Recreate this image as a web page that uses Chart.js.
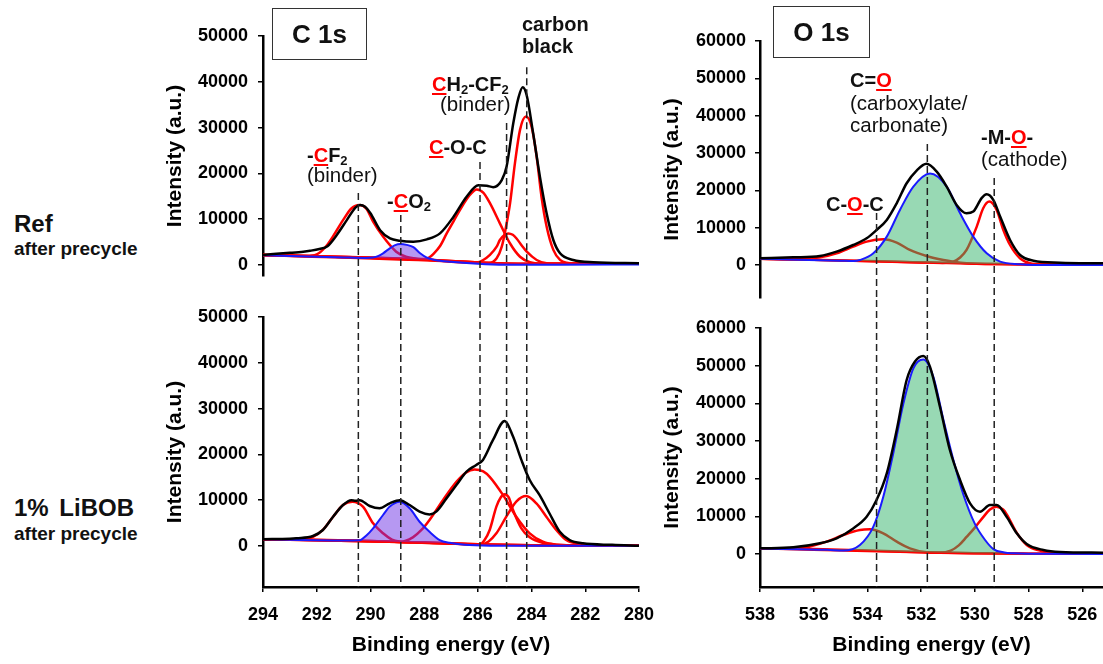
<!DOCTYPE html>
<html>
<head>
<meta charset="utf-8">
<script src="https://cdn.jsdelivr.net/npm/chart.js@4.4.0/dist/chart.umd.min.js"></script>
<style>
body { margin:0; width:1103px; height:664px; overflow:hidden; background:#fff; position:relative;
       font-family:"Liberation Sans", Arial, sans-serif; color:#111; }
canvas { position:absolute; }
.t { position:absolute; white-space:nowrap; line-height:1; font-size:20.5px; }
.b { font-weight:bold; font-size:20px; }
.r { color:#f00; text-decoration:underline; text-decoration-thickness:2px; text-underline-offset:2px; }
.s { font-size:13px; vertical-align:-3px; }
.box { position:absolute; border:1.5px solid #333; box-sizing:border-box; display:flex;
       align-items:center; justify-content:center; font-weight:bold; font-size:26px; }
</style>
</head>
<body>
<canvas id="bl" width="541" height="364" style="left:159px;top:300px"></canvas>
<canvas id="br" width="447" height="364" style="left:656px;top:300px"></canvas>
<canvas id="tl" width="541" height="300" style="left:159px;top:0px"></canvas>
<canvas id="tr" width="447" height="300" style="left:656px;top:0px"></canvas>

<div class="box" style="left:272px;top:8px;width:95px;height:52px">C 1s</div>
<div class="box" style="left:773px;top:6px;width:97px;height:52px">O 1s</div>

<div class="t b" style="left:307px;top:145px">-<span class="r">C</span>F<span class="s">2</span></div>
<div class="t" style="left:307px;top:165px">(binder)</div>
<div class="t b" style="left:387px;top:191px">-<span class="r">C</span>O<span class="s">2</span></div>
<div class="t b" style="left:429px;top:137px"><span class="r">C</span>-O-C</div>
<div class="t b" style="left:432px;top:74px"><span class="r">C</span>H<span class="s">2</span>-CF<span class="s">2</span></div>
<div class="t" style="left:440px;top:94px">(binder)</div>
<div class="t b" style="left:522px;top:14px">carbon</div>
<div class="t b" style="left:522px;top:36px">black</div>

<div class="t b" style="left:850px;top:70px">C=<span class="r">O</span></div>
<div class="t" style="left:850px;top:93px">(carboxylate/</div>
<div class="t" style="left:850px;top:115px">carbonate)</div>
<div class="t b" style="left:981px;top:127px">-M-<span class="r">O</span>-</div>
<div class="t" style="left:981px;top:149px">(cathode)</div>
<div class="t b" style="left:826px;top:194px">C-<span class="r">O</span>-C</div>

<div class="t" style="left:14px;top:212px;font-size:24px;font-weight:bold">Ref</div>
<div class="t" style="left:14px;top:239px;font-size:19px;font-weight:bold">after precycle</div>
<div class="t" style="left:14px;top:496px;font-size:24px;font-weight:bold;word-spacing:4px">1% LiBOB</div>
<div class="t" style="left:14px;top:524px;font-size:19px;font-weight:bold">after precycle</div>

<script>
// ranges [left, right] in eV, y ranges [min, max]
const cRange = [294, 280];
const oRange = [538, 525.23];
const yTopC = [-2400, 50000];
const yBotC = [-8950, 50000];
const yTopO = [-8840, 60000];
const yBotO = [-8760, 60000];

// tick labels
const cTicksX = [294, 292, 290, 288, 286, 284, 282, 280];
const oTicksX = [538, 536, 534, 532, 530, 528, 526];
const cTicksY = [0, 10000, 20000, 30000, 40000, 50000];
const oTicksY = [0, 10000, 20000, 30000, 40000, 50000, 60000];

// dashed guide lines: peak energies and where they start in the upper panel
const cPeakE = [290.45, 288.87, 285.92, 284.93, 284.18];
const cPeakTop = [15700, 10900, 22500, 31000, 43200];
const oPeakE = [533.66, 531.77, 529.28];
const oPeakTop = [13900, 32400, 23300];

// C 1s, Ref after precycle  [eV, counts]
const cRefBg = [[294,2200],[292,1900],[290,1600],[288,1200],[287,900],[286,550],[285,350],[284,270],[280,250]];
const cRefExp = [[294,2200],[293.5,2450],[293,2650],[292.5,2900],[292.25,3100],[291.9,3500],[291.6,4100],[291.26,6500],
  [290.88,9800],[290.55,12600],[290.38,13100],[290.2,12700],[290,11300],[289.64,7600],[289.27,5800],[288.9,5300],
  [288.4,5100],[287.9,5600],[287.41,6900],[286.91,10500],[286.42,14900],[285.98,17400],[285.67,17300],[285.43,17000],
  [285.11,18550],[284.93,21500],[284.68,31000],[284.49,36500],[284.33,38800],[284.18,37000],[283.94,28700],
  [283.69,19300],[283.44,11300],[283.19,5460],[282.94,2550],[282.45,1100],[281.7,600],[280,400]];
const cRefCF2 = [[294,2200],[292.4,1950],[292,2300],[291.65,4100],[291.4,6200],[291.02,9800],[290.7,12400],[290.42,13100],
  [290.15,12300],[289.9,9450],[289.53,6200],[289.04,2900],[288.68,1800],[288.2,1300],[287,900],[286,550],[285,350],[284,270],[280,250]];
const cRefCO2 = [[294,2150],[291,1650],[290.2,1550],[289.9,1650],[289.7,2000],[289.53,2550],[289.28,3640],[289.1,4300],
  [288.88,4600],[288.65,4400],[288.4,3900],[288.15,2550],[287.9,1600],[287.6,1100],[287,700],[286,300],[285,80],[284,50],[283,60],[280,100]];
const cRefCOC = [[294,2200],[290,1600],[288.5,1300],[288,1300],[287.8,1700],[287.66,2400],[287.4,4200],[287.16,6900],
  [286.9,9600],[286.67,12000],[286.3,15300],[286.04,16500],[285.8,15800],[285.55,13500],[285.18,9100],[284.8,4700],
  [284.43,1800],[284.06,600],[283.6,300],[280,250]];
const cRef285 = [[294,2200],[288,1200],[286.3,500],[286.04,550],[285.8,1100],[285.55,2200],[285.3,4000],[285.18,5460],
  [285,6600],[284.87,6900],[284.7,6600],[284.56,5800],[284.36,4200],[284.18,2900],[283.81,1100],[283.44,370],[283,280],[280,250]];
const cRefCB = [[294,2200],[286,550],[285.6,420],[285.3,1460],[285.11,4000],[284.95,8400],[284.8,13500],[284.62,22200],
  [284.43,29500],[284.21,32400],[284,30200],[283.81,23600],[283.63,14900],[283.44,8400],[283.19,3300],[282.94,1100],
  [282.7,500],[282,280],[280,250]];

// C 1s, 1% LiBOB after precycle
const cLiBg = [[294,1500],[292,1350],[290,1100],[288.9,900],[288,750],[286,400],[284,150],[282,80],[280,50]];
const cLiExp = [[294,1500],[293,1600],[292.76,1700],[292.14,2180],[291.77,3500],[291.39,6400],[291.02,8950],[290.71,10000],
  [290.55,9900],[290.4,10000],[290.03,8730],[289.66,8230],[289.28,9320],[288.91,10000],[288.54,8950],[288.17,7500],
  [287.8,6900],[287.55,7500],[287.17,10400],[286.8,13300],[286.43,16200],[286.06,17700],[285.81,18800],[285.44,23100],
  [285,27300],[284.69,23900],[284.38,18800],[284.07,14400],[283.7,11100],[283.33,7100],[282.95,3100],[282.58,1300],
  [282.09,580],[281,250],[280,70]];
const cLiCF2 = [[294,1500],[292.5,1400],[292.14,2000],[291.77,3500],[291.39,6400],[291.02,8950],[290.67,9670],[290.28,8600],
  [289.9,4950],[289.53,2770],[289.2,1400],[288.91,950],[288.4,760],[286,400],[284,150],[280,50]];
const cLiCO2 = [[294,1450],[291,1200],[290.4,1250],[290.15,2300],[289.9,3860],[289.53,6770],[289.28,8600],[288.91,9670],
  [288.54,8230],[288.17,5300],[287.8,3100],[287.42,1300],[287.05,700],[286.5,300],[285.5,80],[284,30],[283,30],[280,30]];
const cLiCOC = [[294,1500],[290,1100],[289.2,950],[288.91,900],[288.42,1900],[288.1,3500],[287.8,5700],[287.3,10000],
  [286.8,14000],[286.45,16000],[286.12,16700],[285.8,16300],[285.56,15100],[285.06,11100],[284.57,6400],[284.07,2770],
  [283.58,940],[283.08,300],[282,100],[280,50]];
const cLi285 = [[294,1500],[288,750],[286.2,330],[285.93,300],[285.75,1300],[285.56,3500],[285.31,8600],[285.15,10600],
  [285,11300],[284.85,10600],[284.69,7860],[284.38,3860],[284.07,1900],[283.58,700],[283.08,300],[282,100],[280,50]];
const cLiCB = [[294,1500],[288,750],[286.2,330],[285.93,300],[285.6,1000],[285.31,2770],[284.94,6400],[284.57,9700],
  [284.2,10900],[283.82,9300],[283.45,6400],[283.08,3500],[282.71,1300],[282.21,440],[281.59,150],[280,50]];

// O 1s, Ref after precycle
const oRefBg = [[538,1700],[536,1400],[534,1100],[532,700],[530,350],[528,150],[525.23,60]];
const oRefExp = [[538,1790],[536.76,2050],[535.77,2410],[535.15,3570],[534.53,5360],[534.03,7150],[533.66,9380],
  [533.28,12060],[532.91,16530],[532.54,21900],[532.17,25300],[531.8,27100],[531.42,25000],[531.05,21000],
  [530.68,16100],[530.31,13850],[530.06,14300],[529.75,17900],[529.56,18950],[529.31,17400],[529.06,13000],
  [528.69,6700],[528.32,2680],[527.82,1160],[526.83,630],[525.23,450]];
const oRefCOC = [[538,1700],[536.5,1550],[535.77,2050],[535.15,3130],[534.53,4920],[534.03,6260],[533.41,6900],
  [532.91,6000],[532.42,4020],[531.8,2410],[531.17,1340],[530.8,900],[530.31,500],[529,250],[525.23,60]];
const oRefCO = [[538,1650],[535,1150],[534.5,1050],[534.28,1340],[533.78,3130],[533.28,7600],[532.79,14750],
  [532.29,21000],[531.67,24500],[531.05,21000],[530.55,13850],[530.06,7600],[529.56,3130],[529.06,900],
  [528.32,180],[527.8,20],[525.23,0]];
const oRefMO = [[538,1700],[532,700],[531.2,550],[530.8,900],[530.55,2000],[530.31,4020],[529.93,10280],[529.69,15200],
  [529.46,16980],[529.19,14750],[528.94,9380],[528.69,5360],[528.32,1790],[527.95,450],[527.5,150],[525.23,60]];

// O 1s, 1% LiBOB after precycle
const oLiBg = [[538,1500],[536,1300],[534,950],[532,450],[530,200],[528,100],[525.23,50]];
const oLiExp = [[538,1500],[536.76,1770],[535.77,2830],[535.15,4160],[534.53,6800],[534.03,9900],[533.66,14330],
  [533.28,21400],[532.91,32900],[532.54,46200],[532.23,51100],[531.92,52550],[531.67,49700],[531.3,39100],
  [530.93,27600],[530.55,19600],[530.18,13450],[529.81,11240],[529.44,13000],[529.19,13000],[528.82,9900],
  [528.44,5500],[528.07,2650],[527.45,1060],[526.83,530],[525.23,350]];
const oLiCOC = [[538,1500],[536.5,1500],[536.14,2000],[535.52,3270],[534.9,5040],[534.28,6370],[533.9,6550],
  [533.41,5480],[532.91,3270],[532.42,1500],[531.8,450],[531.3,320],[530,200],[528,100],[525.23,50]];
const oLiCO = [[538,1450],[535.5,1100],[534.9,900],[534.28,2390],[533.78,7260],[533.41,15200],[533.04,26700],
  [532.66,40000],[532.29,49300],[531.92,51650],[531.55,47100],[531.17,35600],[530.8,24950],[530.43,15800],
  [530,8000],[529.62,3720],[529.31,1300],[528.9,400],[528.57,180],[528,50],[525.23,30]];
const oLiMO = [[538,1500],[532,450],[531.3,320],[530.9,900],[530.6,2300],[530.3,4600],[530,7000],[529.69,9800],
  [529.44,11800],[529.2,12570],[528.95,11800],[528.82,10600],[528.44,5600],[528.07,2400],[527.58,900],
  [527.08,300],[526.5,100],[525.23,50]];

const FONT = 'Liberation Sans, Arial, sans-serif';
const tickFont = {family: FONT, size: 18, weight: 'bold'};
const titleFont = {family: FONT, size: 21, weight: 'bold'};

const pts = a => a.map(p => ({x: p[0], y: p[1]}));

function curve(data, color, order, more) {
  return Object.assign({
    data: pts(data), borderColor: color, borderWidth: 2.5, pointRadius: 0, fill: false,
    cubicInterpolationMode: 'monotone', order: order
  }, more || {});
}

const dashPlugin = {
  id: 'dashes',
  afterDatasetsDraw(chart, args, opts) {
    const ctx = chart.ctx, x = chart.scales.x, y = chart.scales.y;
    ctx.save();
    ctx.setLineDash([7, 4]);
    ctx.lineWidth = 1.5;
    ctx.strokeStyle = '#222';
    opts.energies.forEach((e, i) => {
      const px = x.getPixelForValue(e);
      const y0 = opts.tops ? y.getPixelForValue(opts.tops[i]) : 0;
      const y1 = opts.tops ? chart.height : chart.chartArea.bottom;
      ctx.beginPath();
      ctx.moveTo(px, y0);
      ctx.lineTo(px, y1);
      ctx.stroke();
    });
    ctx.restore();
  }
};

function makeChart(id, sets, xr, yr, xt, yt, fillColor, bottom, pad, dashes, tickPad) {
  const datasets = [
    curve(sets.bg, '#ff0000', 5),
    ...sets.reds.map(r => curve(r, '#ff0000', 4)),
    curve(sets.blue, '#1a1aff', 2, {fill: {target: 0}, backgroundColor: fillColor, borderWidth: 2}),
    curve(sets.exp, '#000000', 1)
  ];
  new Chart(document.getElementById(id), {
    type: 'line',
    data: {datasets: datasets},
    plugins: [dashPlugin],
    options: {
      responsive: false, animation: false, devicePixelRatio: 1, events: [],
      layout: {padding: pad},
      plugins: {legend: {display: false}, tooltip: {enabled: false}, dashes: dashes},
      scales: {
        x: {
          type: 'linear', reverse: true, min: xr[1], max: xr[0], display: bottom,
          afterBuildTicks: s => { s.ticks = xt.map(v => ({value: v})); },
          ticks: {font: tickFont, color: '#000', padding: 12, maxRotation: 0, autoSkip: false,
                  callback: v => String(v)},
          grid: {drawOnChartArea: false, tickLength: 5, color: '#000', lineWidth: 1.5},
          border: {color: '#000', width: 2.5},
          title: {display: true, text: 'Binding energy (eV)', font: titleFont, color: '#000',
                  padding: {top: 0, bottom: 6}},
          afterFit: s => { if (bottom) { s.height = 77; } s.paddingLeft = 0; s.paddingRight = 0; }
        },
        y: {
          type: 'linear', min: yr[0], max: yr[1],
          afterBuildTicks: s => { s.ticks = yt.map(v => ({value: v})); },
          ticks: {font: tickFont, color: '#000', padding: tickPad, autoSkip: false,
                  callback: v => String(v)},
          grid: {drawOnChartArea: false, tickLength: 5, color: '#000', lineWidth: 1.5},
          border: {color: '#000', width: 2.5},
          title: {display: true, text: 'Intensity (a.u.)', font: titleFont, color: '#000',
                  padding: {top: 4, bottom: 4}},
          afterFit: s => { s.width = 104; s.paddingTop = 0; s.paddingBottom = 0; }
        }
      }
    }
  });
}

const purple = 'rgba(110,50,230,0.5)';
const green = 'rgba(50,180,105,0.5)';

makeChart('bl', {bg: cLiBg, reds: [cLiCF2, cLiCOC, cLi285, cLiCB], blue: cLiCO2, exp: cLiExp},
  cRange, yBotC, cTicksX, cTicksY, purple, true, {top: 17, right: 61, bottom: 0, left: 0}, {energies: cPeakE}, 10);
makeChart('br', {bg: oLiBg, reds: [oLiCOC, oLiMO], blue: oLiCO, exp: oLiExp},
  oRange, yBotO, oTicksX, oTicksY, green, true, {top: 28, right: 0, bottom: 0, left: 0}, {energies: oPeakE}, 9);
makeChart('tl', {bg: cRefBg, reds: [cRefCF2, cRefCOC, cRef285, cRefCB], blue: cRefCO2, exp: cRefExp},
  cRange, yTopC, cTicksX, cTicksY, purple, false, {top: 36, right: 61, bottom: 24, left: 0}, {energies: cPeakE, tops: cPeakTop}, 10);
makeChart('tr', {bg: oRefBg, reds: [oRefCOC, oRefMO], blue: oRefCO, exp: oRefExp},
  oRange, yTopO, oTicksX, oTicksY, green, false, {top: 41, right: 0, bottom: 2, left: 0}, {energies: oPeakE, tops: oPeakTop}, 9);
</script>
</body>
</html>
